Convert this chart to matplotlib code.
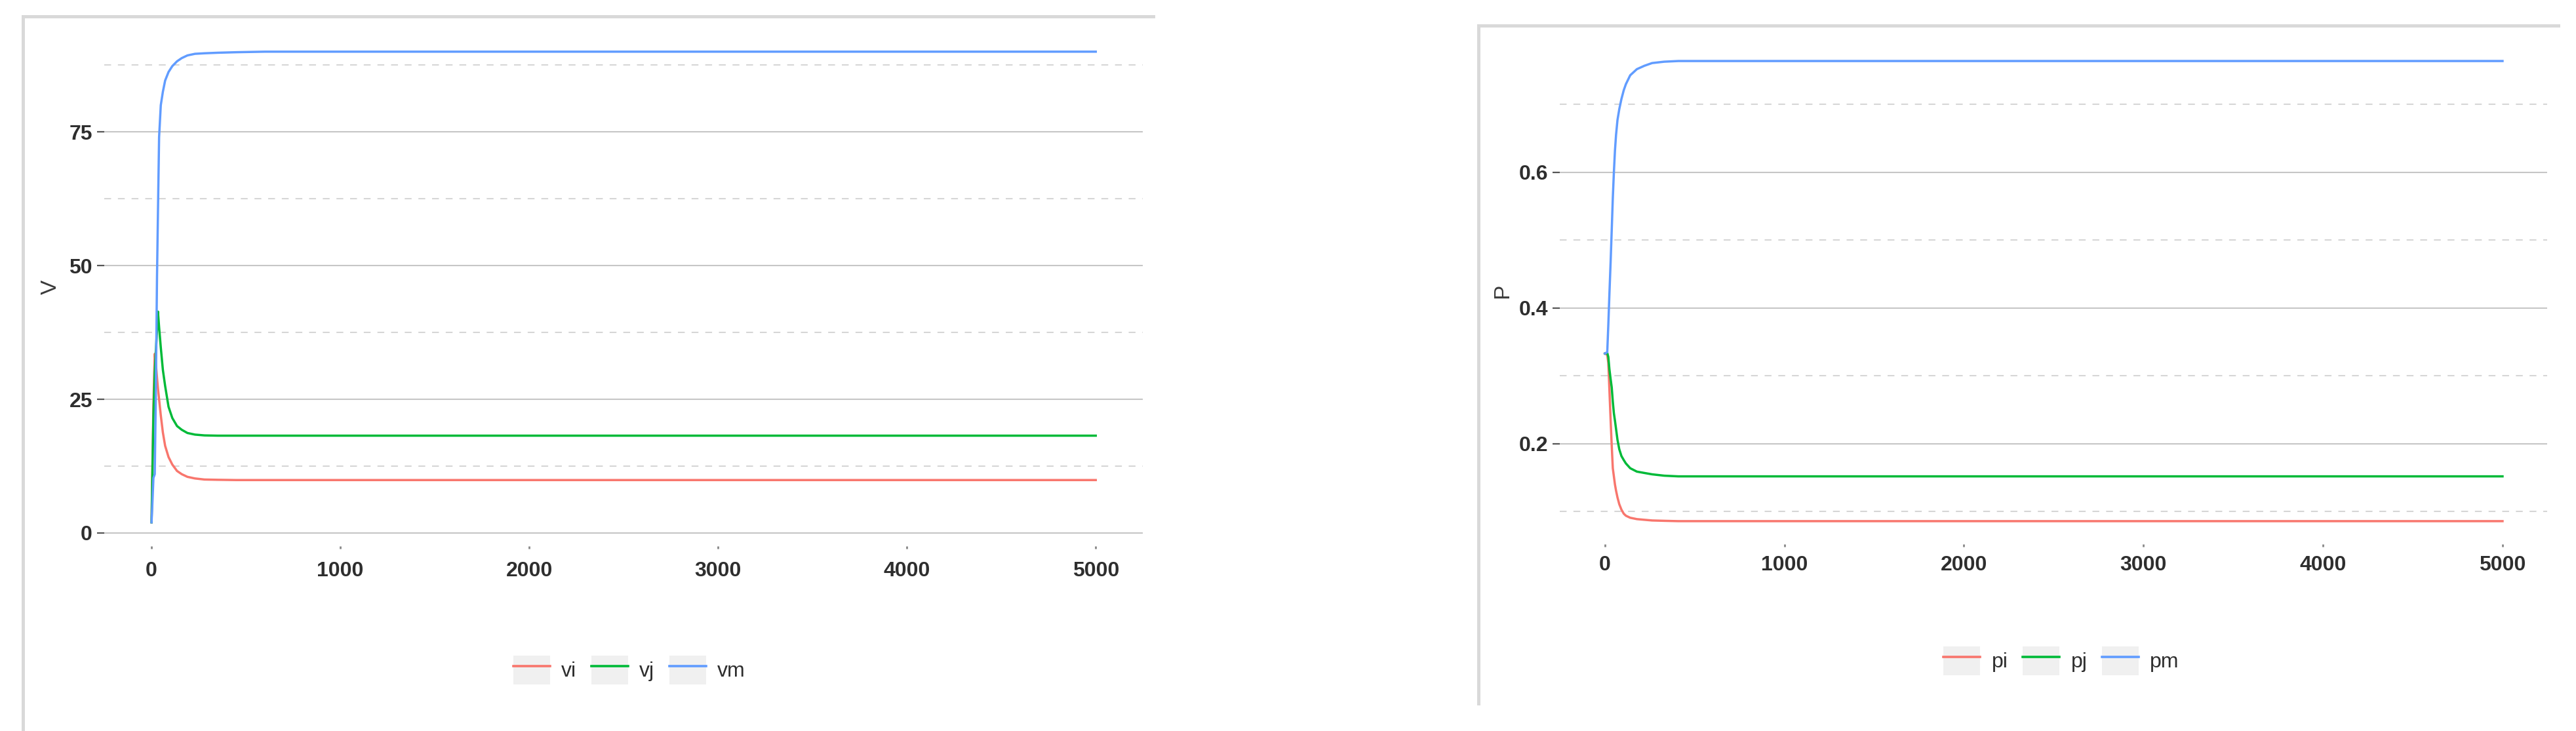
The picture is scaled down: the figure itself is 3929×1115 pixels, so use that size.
import matplotlib
matplotlib.use('Agg')
import matplotlib.pyplot as plt
from matplotlib.lines import Line2D
from matplotlib.patches import Patch
from matplotlib.legend_handler import HandlerTuple
from matplotlib.ticker import MultipleLocator

plt.rcParams['font.family'] = ['Liberation Sans', 'DejaVu Sans']

# V panel: time steps and the three series
t_v = [0, 5, 10, 17, 22, 29, 34, 40, 49, 60, 72, 90, 110, 135, 160, 190, 230, 280, 350, 450, 600, 1000, 5000]
vi = [2.0, 13.0, 24.0, 33.5, 32.0, 29.0, 27.0, 25.0, 22.0, 18.8, 16.3, 14.2, 12.8, 11.6, 11.0, 10.5,
      10.2, 10.0, 9.95, 9.9, 9.9, 9.9, 9.9]
vj = [2.0, 12.0, 22.0, 30.0, 33.5, 38.0, 41.4, 38.5, 34.7, 30.5, 27.5, 23.6, 21.5, 20.0, 19.3, 18.7,
      18.4, 18.25, 18.2, 18.2, 18.2, 18.2, 18.2]
vm = [2.0, 6.0, 10.3, 11.0, 24.0, 48.0, 60.0, 74.0, 80.0, 82.5, 84.6, 86.2, 87.3, 88.2, 88.8, 89.3,
      89.6, 89.7, 89.8, 89.9, 90.0, 90.0, 90.0]

# P panel
t_p = [0, 13, 19, 25, 32, 38, 44, 50, 56, 62, 70, 80, 92, 105, 117, 141, 178, 220, 263, 330, 409, 600, 1000, 5000]
pi = [0.333, 0.331, 0.319, 0.28, 0.234, 0.197, 0.164, 0.152, 0.140, 0.131, 0.121, 0.111, 0.103, 0.097,
      0.094, 0.091, 0.089, 0.088, 0.087, 0.0865, 0.086, 0.086, 0.086, 0.086]
pj = [0.333, 0.334, 0.328, 0.31, 0.295, 0.283, 0.262, 0.245, 0.234, 0.222, 0.206, 0.192, 0.182, 0.176,
      0.171, 0.164, 0.159, 0.157, 0.155, 0.153, 0.152, 0.152, 0.152, 0.152]
pm = [0.333, 0.335, 0.375, 0.42, 0.469, 0.515, 0.562, 0.600, 0.632, 0.655, 0.677, 0.693, 0.708, 0.721,
      0.730, 0.743, 0.752, 0.757, 0.761, 0.763, 0.764, 0.764, 0.764, 0.764]

x_ticks = [0, 1000, 2000, 3000, 4000, 5000]
v_ticks = [0, 25, 50, 75]
p_ticks = [0.2, 0.4, 0.6]
p_tick_labels = ['0.2', '0.4', '0.6']
v_names = ['vi', 'vj', 'vm']
p_names = ['pi', 'pj', 'pm']

colors = ['#F8766D', '#00BA38', '#619CFF']
text_col = '#2e2e2e'

fig = plt.figure(figsize=(39.29, 11.15), dpi=100)
ax1 = fig.add_axes([0.0405, 0.2533, 0.4032, 0.7082])
ax2 = fig.add_axes([0.6056, 0.2556, 0.3833, 0.6924])


def draw(ax, t, series, names, ylabel, yticks, yticklabels, minor, xpad, label_x, leg_xy):
    for s, c, n in zip(series, colors, names):
        ax.plot(t, s, color=c, lw=2.5, label=n, solid_joinstyle='round')
    lo = min(min(s) for s in series)
    hi = max(max(s) for s in series)
    pad = 0.05 * (hi - lo)
    ax.set_ylim(lo - pad, hi + pad)
    ax.set_xlim(-250, 5250)
    ax.set_xticks(x_ticks)
    ax.set_xticklabels([str(x) for x in x_ticks])
    ax.set_yticks(yticks)
    ax.set_yticklabels(yticklabels)
    ax.yaxis.set_minor_locator(MultipleLocator(minor))
    ax.grid(axis='y', which='major', color='#c6c6c6', lw=1.5, ls='-')
    ax.grid(axis='y', which='minor', color='#d6d6d6', lw=1.5, ls=(0, (5, 5)))
    ax.set_axisbelow(True)
    for sp in ax.spines.values():
        sp.set_visible(False)
    ax.tick_params(axis='y', which='major', length=8, width=1.6, color='#555555', pad=5,
                   labelsize=23, labelcolor=text_col)
    ax.tick_params(axis='y', which='minor', length=0)
    ax.tick_params(axis='x', which='major', length=3, width=2, color='#888888', pad=xpad,
                   labelsize=23, labelcolor=text_col)
    for lab in ax.get_xticklabels() + ax.get_yticklabels():
        lab.set_fontweight('bold')
    ax.set_ylabel(ylabel, fontsize=24, color='#3a3a3a')
    ax.yaxis.set_label_coords(label_x, 0.5)

    handles = [(Patch(facecolor='#f0f0f0', edgecolor='none'), Line2D([], [], color=c, lw=2.6))
               for c in colors]
    fig.legend(handles, names, handler_map={tuple: HandlerTuple(ndivide=1, pad=0)},
               loc='center', bbox_to_anchor=leg_xy, ncol=3, frameon=False,
               fontsize=23, labelcolor=text_col, handlelength=1.75, handleheight=1.78,
               handletextpad=0.55, columnspacing=0.7, borderpad=0)


draw(ax1, t_v, [vi, vj, vm], v_names, 'V', v_ticks, [str(v) for v in v_ticks], 12.5, 13.8, -0.0417,
     (0.2443, 0.0834))
draw(ax2, t_p, [pi, pj, pm], p_names, 'P', p_ticks, p_tick_labels, 0.1, 9.2, -0.0478,
     (0.8002, 0.0960))

# screenshot frames around each plot
frame_col = '#d9d9d9'
fig.add_artist(Line2D([0.0089, 0.4477], [0.9776, 0.9776], transform=fig.transFigure, color=frame_col, lw=3.6))
fig.add_artist(Line2D([0.0089, 0.0089], [0.9776, 0.0], transform=fig.transFigure, color=frame_col, lw=3.6))
fig.add_artist(Line2D([0.5739, 0.9931], [0.9650, 0.9650], transform=fig.transFigure, color=frame_col, lw=3.6))
fig.add_artist(Line2D([0.5739, 0.5739], [0.9650, 0.0376], transform=fig.transFigure, color=frame_col, lw=3.6))

fig.savefig('out.png', dpi=100)
